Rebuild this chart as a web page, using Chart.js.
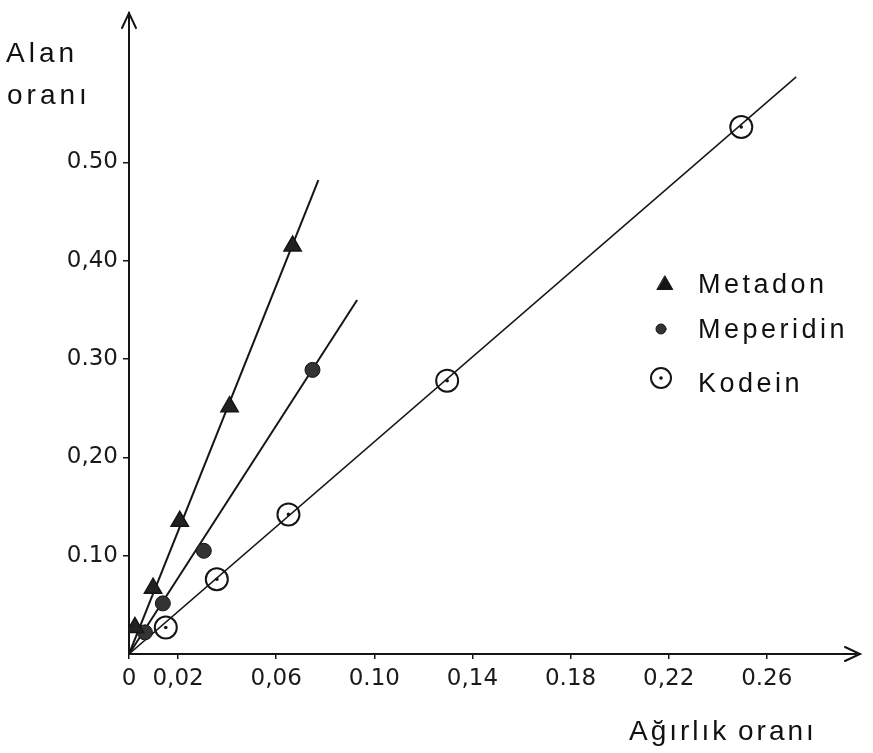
<!DOCTYPE html>
<html>
<head>
<meta charset="utf-8">
<script src="https://cdn.jsdelivr.net/npm/chart.js@4"></script>
<style>
  html, body { margin: 0; padding: 0; background: #fff; }
  #wrap { width: 873px; height: 753px; position: relative; }
</style>
</head>
<body>
<div id="wrap"><canvas id="calib"></canvas></div>
<script>
// Measured points (Ağırlık oranı -> Alan oranı)
const metadonX = [0.0024, 0.0098, 0.0207, 0.041, 0.0667];
const metadonY = [0.027, 0.067, 0.135, 0.2515, 0.415];
const meperidinX = [0.0065, 0.0138, 0.0305, 0.0748];
const meperidinY = [0.022, 0.0515, 0.105, 0.289];
const kodeinX = [0.015, 0.0358, 0.065, 0.1297, 0.2496];
const kodeinY = [0.027, 0.076, 0.142, 0.278, 0.536];

// Fitted lines drawn from origin to these ends
const lineStartX = 0, lineStartY = 0;
const metadonEnd = [0.0772, 0.482];
const meperidinEnd = [0.093, 0.36];
const kodeinEnd = [0.272, 0.587];

// Axis ticks
const xTickValues = [0, 0.02, 0.06, 0.10, 0.14, 0.18, 0.22, 0.26];
const xTickLabels = ['0', '0,02', '0,06', '0.10', '0,14', '0.18', '0,22', '0.26'];
const yTickValues = [0.10, 0.20, 0.30, 0.40, 0.50];
const yTickLabels = ['0.10', '0,20', '0.30', '0,40', '0.50'];

const seriesNames = ['Metadon', 'Meperidin', 'Kodein'];

const toPts = (xs, ys) => xs.map((x, i) => ({ x: x, y: ys[i] }));
const ink = '#151515';
const tickFont = { family: 'DejaVu Sans', size: 23 };

// arrows, axis titles and the legend box
const decorations = {
    id: 'decorations',
    afterDraw(chart) {
        const { ctx, chartArea: a } = chart;
        ctx.save();
        ctx.strokeStyle = ink;
        ctx.lineWidth = 2;
        ctx.lineCap = 'round';
        // y arrow
        ctx.beginPath();
        ctx.moveTo(a.left - 7, a.top + 15);
        ctx.lineTo(a.left, a.top);
        ctx.lineTo(a.left + 7, a.top + 15);
        ctx.stroke();
        // x arrow
        ctx.beginPath();
        ctx.moveTo(a.right - 15, a.bottom - 7);
        ctx.lineTo(a.right, a.bottom);
        ctx.lineTo(a.right - 15, a.bottom + 7);
        ctx.stroke();

        ctx.fillStyle = '#111';
        ctx.textBaseline = 'alphabetic';
        ctx.textAlign = 'left';
        ctx.font = '28px "Liberation Sans", Arial, sans-serif';
        ctx.letterSpacing = '4px';
        ctx.fillText('Alan', 6, 62);
        ctx.fillText('oranı', 7, 104);
        ctx.letterSpacing = '3px';
        ctx.fillText('Ağırlık', 629, 740);
        ctx.fillText('oranı', 738, 740);

        // legend
        ctx.font = '27px "Liberation Sans", Arial, sans-serif';
        ctx.letterSpacing = '3.5px';
        const rows = [
            { y: 293, mx: 665, my: 285, style: 'triangle', r: 9, fill: ink, bw: 1 },
            { y: 338, mx: 661, my: 329, style: 'circle', r: 5, fill: '#333', bw: 1 },
            { y: 392, mx: 661, my: 378, style: 'circle', r: 10, fill: 'rgba(0,0,0,0)', bw: 2 }
        ];
        rows.forEach((row, i) => {
            ctx.fillStyle = row.fill;
            ctx.strokeStyle = ink;
            ctx.lineWidth = row.bw;
            Chart.helpers.drawPoint(ctx, { pointStyle: row.style, radius: row.r, borderWidth: row.bw }, row.mx, row.my);
            ctx.fillStyle = '#111';
            ctx.fillText(seriesNames[i], 698, row.y);
        });
        // dot inside the kodein marker
        ctx.beginPath();
        ctx.arc(661, 378, 1.8, 0, Math.PI * 2);
        ctx.fill();
        ctx.letterSpacing = '0px';
        ctx.restore();
    }
};

new Chart(document.getElementById('calib'), {
    type: 'scatter',
    data: {
        datasets: [
            {
                label: seriesNames[0], data: toPts(metadonX, metadonY), order: 0,
                pointStyle: 'triangle', pointRadius: 10, pointBorderWidth: 1.5,
                backgroundColor: '#222', borderColor: ink
            },
            {
                label: seriesNames[1], data: toPts(meperidinX, meperidinY), order: 0,
                pointStyle: 'circle', pointRadius: 7.5, pointBorderWidth: 1,
                backgroundColor: '#333', borderColor: ink
            },
            {
                label: seriesNames[2], data: toPts(kodeinX, kodeinY), order: 0,
                pointStyle: 'circle', pointRadius: 11, pointBorderWidth: 2,
                backgroundColor: 'rgba(0,0,0,0)', borderColor: ink
            },
            {
                label: 'kodein-dot', data: toPts(kodeinX, kodeinY), order: 0,
                pointRadius: 1.8, pointBorderWidth: 0, backgroundColor: ink
            },
            {
                label: 'metadon-line', data: [{ x: lineStartX, y: lineStartY }, { x: metadonEnd[0], y: metadonEnd[1] }],
                showLine: true, pointRadius: 0, borderColor: ink, borderWidth: 2, order: 1
            },
            {
                label: 'meperidin-line', data: [{ x: lineStartX, y: lineStartY }, { x: meperidinEnd[0], y: meperidinEnd[1] }],
                showLine: true, pointRadius: 0, borderColor: ink, borderWidth: 2, order: 1
            },
            {
                label: 'kodein-line', data: [{ x: lineStartX, y: lineStartY }, { x: kodeinEnd[0], y: kodeinEnd[1] }],
                showLine: true, pointRadius: 0, borderColor: ink, borderWidth: 1.5, order: 1
            }
        ]
    },
    options: {
        responsive: true,
        maintainAspectRatio: false,
        animation: false,
        layout: { padding: { top: 10, right: 10, left: 0, bottom: 0 } },
        plugins: {
            legend: { display: false },
            tooltip: { enabled: false }
        },
        scales: {
            x: {
                type: 'linear', min: 0, max: 0.298,
                afterBuildTicks: (axis) => { axis.ticks = xTickValues.map(v => ({ value: v })); },
                afterFit: (axis) => { axis.height = 99; axis.paddingLeft = 0; axis.paddingRight = 0; },
                ticks: {
                    color: '#1a1a1a', font: tickFont, padding: 6, maxRotation: 0, autoSkip: false,
                    callback: (v, i) => xTickLabels[i]
                },
                grid: { drawOnChartArea: false, drawTicks: true, tickLength: 5, color: ink, lineWidth: 1.5 },
                border: { display: true, color: ink, width: 2 }
            },
            y: {
                type: 'linear', min: 0, max: 0.652,
                afterBuildTicks: (axis) => { axis.ticks = yTickValues.map(v => ({ value: v })); },
                afterFit: (axis) => { axis.width = 129; axis.paddingTop = 0; axis.paddingBottom = 0; },
                ticks: {
                    color: '#1a1a1a', font: tickFont, padding: 5, autoSkip: false,
                    callback: (v, i) => yTickLabels[i]
                },
                grid: { drawOnChartArea: false, drawTicks: true, tickLength: 6, color: ink, lineWidth: 1.5 },
                border: { display: true, color: ink, width: 2 }
            }
        }
    },
    plugins: [decorations]
});
</script>
</body>
</html>
